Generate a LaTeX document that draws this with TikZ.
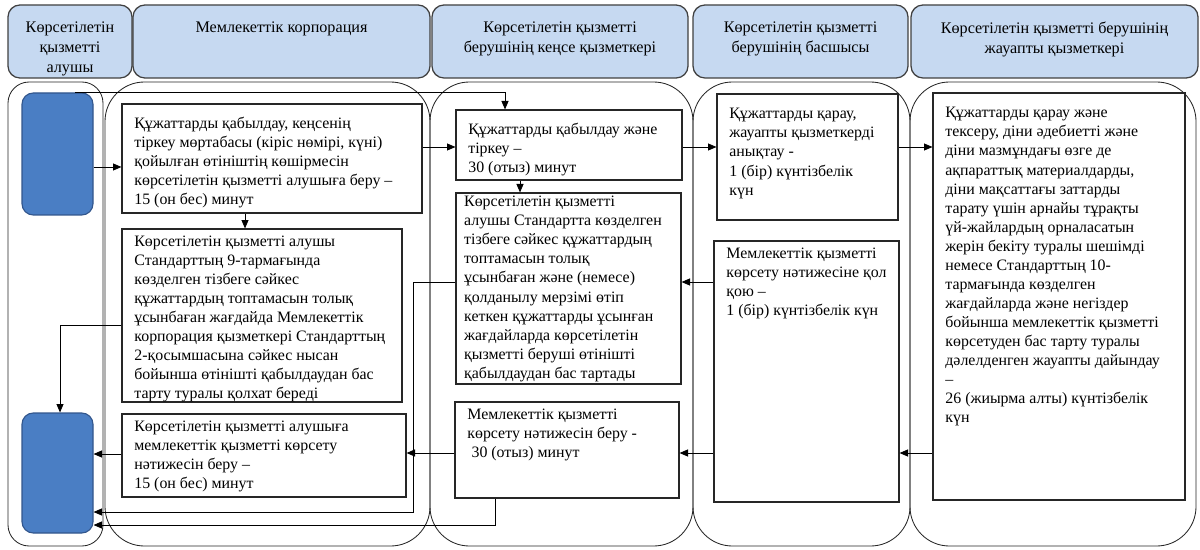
\documentclass[tikz,border=0pt]{standalone}
\usepackage{fontspec}
\setmainfont{Liberation Serif}
\usetikzlibrary{arrows.meta, positioning, fit, calc}
\definecolor{headblue}{RGB}{198,217,241}
\definecolor{startblue}{RGB}{74,126,196}
\definecolor{startborder}{RGB}{50,86,140}

\begin{document}
\begin{tikzpicture}[
x=0.025cm, y=-0.025cm,
lane_head/.style={draw=black!75, line width=0.9pt, fill=headblue, rounded corners=8.5pt, inner sep=0pt},
lane_body/.style={draw=black!85, line width=0.6pt, rounded corners=28pt, inner sep=0pt},
head_text/.style={align=center, font=\fontsize{11.5}{14.4}\selectfont, inner sep=0pt, anchor=north},
step_box/.style={draw=black!85, line width=0.8pt, inner sep=0pt},
step_text/.style={align=left, font=\fontsize{11.3}{13.55}\selectfont, inner xsep=9pt, inner ysep=5pt, anchor=north west},
start_box/.style={draw=startborder, fill=startblue, line width=0.8pt, rounded corners=8pt, inner sep=0pt},
arr/.style={-{Triangle[length=6pt, width=5pt]}, line width=0.6pt}
]
\useasboundingbox (0,0) rectangle (1200,550);

% Draw lane heads
    \node[lane_head, fit={(8,5)(132,78)}] (head_client) {};
    \node[lane_head, fit={(133,5)(430,78)}] (head_corp) {};
    \node[lane_head, fit={(432,5)(688,78)}] (head_office) {};
    \node[lane_head, fit={(693,5)(908,78)}] (head_chief) {};
    \node[lane_head, fit={(911,5)(1198,78)}] (head_officer) {};
    \node[head_text] (head_client_text) at ($(head_client.north)+(0,17)$) {Көрсетілетін\\қызметті\\алушы};
    \node[head_text] (head_corp_text) at ($(head_corp.north)+(0,17)$) {Мемлекеттік корпорация};
    \node[head_text] (head_office_text) at ($(head_office.north)+(0,17)$) {Көрсетілетін қызметті\\берушінің кеңсе қызметкері};
    \node[head_text] (head_chief_text) at ($(head_chief.north)+(0,17)$) {Көрсетілетін қызметті\\берушінің басшысы};
    \node[head_text] (head_officer_text) at ($(head_officer.north)+(0,17)$) {Көрсетілетін қызметті берушінің\\жауапты қызметкері};

% Draw lane bodies
    \node[lane_body, rounded corners=15pt, fit={(8,82)(103,546)}] (body_client) {};
    \node[lane_body, fit={(105,82)(430,546)}] (body_corp) {};
    \node[lane_body, fit={(430,82)(693,546)}] (body_office) {};
    \node[lane_body, fit={(693,82)(910,546)}] (body_chief) {};
    \node[lane_body, fit={(910,82)(1196,546)}] (body_officer) {};

% Draw client boxes
    \node[start_box, fit={(22,93)(93,215)}] (client_in) {};
    \node[start_box, fit={(22,413)(93,533)}] (client_out) {};

% Draw state corporation steps
    \node[step_box, fit={(122,104)(422,213)}] (corp_take) {};
    \node[step_text, yshift=-4.5pt] (corp_take_text) at (corp_take.north west) {Құжаттарды қабылдау, кеңсенің\\тіркеу мөртабасы (кіріс нөмірі, күні)\\қойылған өтініштің көшірмесін\\көрсетілетін қызметті алушыға беру –\\15 (он бес) минут};
    \node[step_box, fit={(122,229)(402,402)}] (corp_refuse) {};
    \node[step_text] (corp_refuse_text) at (corp_refuse.north west) {Көрсетілетін қызметті алушы\\Стандарттың 9-тармағында\\көзделген тізбеге сәйкес\\құжаттардың топтамасын толық\\ұсынбаған жағдайда Мемлекеттік\\корпорация қызметкері Стандарттың\\2-қосымшасына сәйкес нысан\\бойынша өтінішті қабылдаудан бас\\тарту туралы қолхат береді};
    \node[step_box, fit={(122,414)(406,497)}] (corp_give) {};
    \node[step_text] (corp_give_text) at (corp_give.north west) {Көрсетілетін қызметті алушыға\\мемлекеттік қызметті көрсету\\нәтижесін беру –\\15 (он бес) минут};

% Draw office steps
    \node[step_box, fit={(456,110)(682,180)}] (office_take) {};
    \node[step_text, yshift=-4.5pt] (office_take_text) at (office_take.north west) {Құжаттарды қабылдау және\\тіркеу –\\30 (отыз) минут};
    \node[step_box, fit={(456,193)(681,384)}] (office_refuse) {};
    \node[step_text, yshift=2.5pt, inner xsep=6pt] (office_refuse_text) at (office_refuse.north west) {Көрсетілетін қызметті\\алушы Стандартта көзделген\\тізбеге сәйкес құжаттардың\\топтамасын толық\\ұсынбаған және (немесе)\\қолданылу мерзімі өтіп\\кеткен құжаттарды ұсынған\\жағдайларда көрсетілетін\\қызметті беруші өтінішті\\қабылдаудан бас тартады};
    \node[step_box, fit={(455,402)(679,498)}] (office_give) {};
    \node[step_text] (office_give_text) at (office_give.north west) {Мемлекеттік қызметті\\көрсету нәтижесін беру -\\\hspace*{3pt}30 (отыз) минут};

% Draw chief steps
    \node[step_box, fit={(717,94)(898,220)}] (chief_check) {};
    \node[step_text, yshift=-5.5pt] (chief_check_text) at (chief_check.north west) {Құжаттарды қарау,\\жауапты қызметкерді\\анықтау -\\1 (бір) күнтізбелік\\күн};
    \node[step_box, fit={(714,241)(899,502)}] (chief_sign) {};
    \node[step_text] (chief_sign_text) at (chief_sign.north west) {Мемлекеттік қызметті\\көрсету нәтижесіне қол\\қою –\\1 (бір) күнтізбелік күн};

% Draw officer step
    \node[step_box, fit={(933,93)(1185,500)}] (officer_work) {};
    \node[step_text, yshift=-5.5pt] (officer_work_text) at (officer_work.north west) {Құжаттарды қарау және\\тексеру, діни әдебиетті және\\діни мазмұндағы өзге де\\ақпараттық материалдарды,\\діни мақсаттағы заттарды\\тарату үшін арнайы тұрақты\\үй-жайлардың орналасатын\\жерін бекіту туралы шешімді\\немесе Стандарттың 10-\\тармағында көзделген\\жағдайларда және негіздер\\бойынша мемлекеттік қызметті\\көрсетуден бас тарту туралы\\дәлелденген жауапты дайындау\\–\\26 (жиырма алты) күнтізбелік\\күн};

% Draw main flow
    \draw[arr] (client_in.north -| 75,0) -| (office_take.north -| 505,0);
    \draw[arr] (client_in.east |- 0,167) -- (corp_take.west |- 0,167);
    \draw[arr] (corp_take.south -| 245,0) -- (corp_refuse.north -| 245,0);
    \draw[arr] (corp_take.east |- 0,147) -- (office_take.west |- 0,147);
    \draw[arr] (office_take.south -| 520,0) -- (office_refuse.north -| 520,0);
    \draw[arr] (office_take.east |- 0,147) -- (chief_check.west |- 0,147);
    \draw[arr] (chief_check.east |- 0,147) -- (officer_work.west |- 0,147);
    \draw[arr] (officer_work.west |- 0,453) -- (chief_sign.east |- 0,453);
    \draw[arr] (chief_sign.west |- 0,282) -- (office_refuse.east |- 0,282);
    \draw[arr] (chief_sign.west |- 0,453) -- (office_give.east |- 0,453);
    \draw[arr] (office_give.west |- 0,453) -- (corp_give.east |- 0,453);
    \draw[arr] (corp_give.west |- 0,454) -- (client_out.east |- 0,454);

% Draw return lines
    \draw[arr] (corp_refuse.west |- 0,325) -| (client_out.north -| 60,0);
    \draw[arr] (office_refuse.west |- 0,282) -| (413,512) -- (client_out.east |- 0,512);
    \draw[arr] (office_give.south -| 495,0) |- (client_out.east |- 0,525);
\end{tikzpicture}
\end{document}
